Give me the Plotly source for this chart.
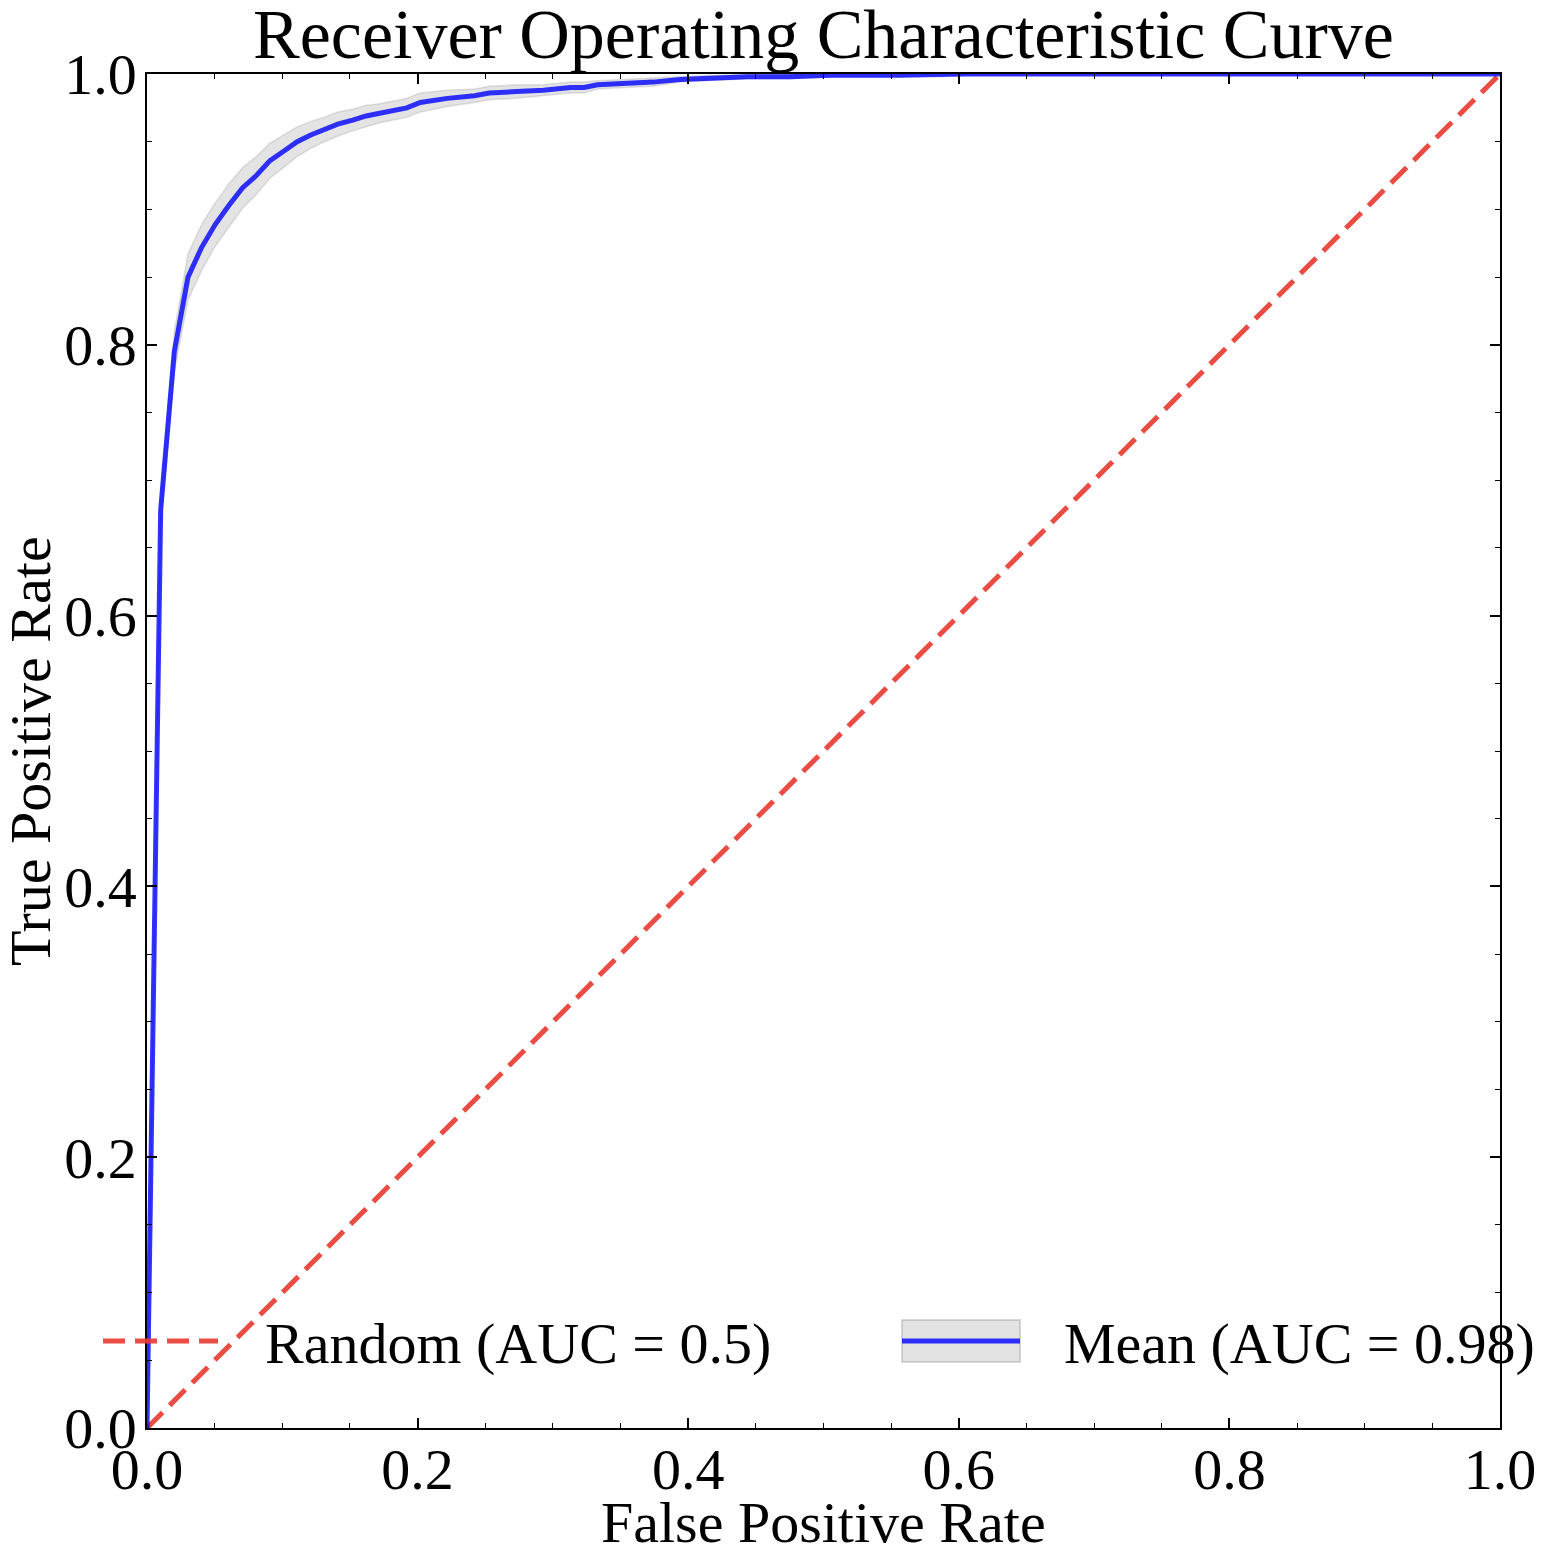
import plotly.graph_objects as go

# ---- data ----
fpr = [0.0, 0.0101, 0.0202, 0.0303, 0.0404, 0.0505, 0.0606, 0.0707, 0.0808, 0.0909,
       0.101, 0.111, 0.121, 0.131, 0.141, 0.152, 0.162, 0.172, 0.182, 0.192,
       0.202, 0.222, 0.242, 0.253, 0.273, 0.293, 0.313, 0.323, 0.333, 0.354,
       0.374, 0.394, 0.414, 0.444, 0.475, 0.505, 0.556, 0.606, 0.707, 0.808,
       0.909, 1.0]
tpr_mean = [0.0, 0.678, 0.795, 0.850, 0.872, 0.889, 0.903, 0.916, 0.925, 0.936,
            0.943, 0.950, 0.955, 0.959, 0.963, 0.966, 0.969, 0.971, 0.973, 0.975,
            0.979, 0.982, 0.984, 0.986, 0.987, 0.988, 0.990, 0.990, 0.992, 0.993,
            0.994, 0.996, 0.997, 0.998, 0.998, 0.999, 0.999, 1.0, 1.0, 1.0,
            1.0, 1.0]
tpr_std = [0.0, 0.012, 0.015, 0.017, 0.017, 0.016, 0.016, 0.015, 0.014, 0.013,
           0.012, 0.011, 0.010, 0.009, 0.009, 0.008, 0.008, 0.007, 0.007, 0.007,
           0.007, 0.006, 0.005, 0.005, 0.005, 0.004, 0.004, 0.004, 0.003, 0.003,
           0.003, 0.002, 0.002, 0.0015, 0.0015, 0.001, 0.001, 0.0, 0.0, 0.0,
           0.0, 0.0]
random_x = [0.0, 1.0]
random_y = [0.0, 1.0]

title_text = "Receiver Operating Characteristic Curve"
x_label = "False Positive Rate"
y_label = "True Positive Rate"
label_random = "Random (AUC = 0.5)"
label_mean = "Mean (AUC = 0.98)"
tick_vals = [0.0, 0.2, 0.4, 0.6, 0.8, 1.0]
tick_text = ["0.0", "0.2", "0.4", "0.6", "0.8", "1.0"]

tpr_upper = [min(m + s, 1.0) for m, s in zip(tpr_mean, tpr_std)]
tpr_lower = [max(m - s, 0.0) for m, s in zip(tpr_mean, tpr_std)]

FONT = "Liberation Serif"
FS = 58
FS_TITLE = 70
BLUE = "rgba(0,0,255,0.8)"
RED = "rgba(232,60,50,0.92)"
BAND_FILL = "rgba(128,128,128,0.22)"
BAND_EDGE = "rgba(128,128,128,0.22)"
LW = 5

fig = go.Figure()
fig.add_trace(go.Scatter(x=fpr, y=tpr_lower, mode="lines",
                         line=dict(color=BAND_EDGE, width=1.5), showlegend=False,
                         hoverinfo="skip"))
fig.add_trace(go.Scatter(x=fpr, y=tpr_upper, mode="lines", fill="tonexty",
                         fillcolor=BAND_FILL,
                         line=dict(color=BAND_EDGE, width=1.5), showlegend=False,
                         hoverinfo="skip"))
fig.add_trace(go.Scatter(x=random_x, y=random_y, mode="lines",
                         line=dict(color=RED, width=LW, dash="22px,10px"),
                         showlegend=False))
fig.add_trace(go.Scatter(x=fpr, y=tpr_mean, mode="lines",
                         line=dict(color=BLUE, width=LW), showlegend=False))

W, H = 1548, 1554
L, R, T, B = 147, 48, 74, 126
pw, ph = W - L - R, H - T - B


def px(xp):
    return (xp - L) / pw


def py(yp):
    return (H - B - yp) / ph


axis_common = dict(
    range=[0, 1], showgrid=False, zeroline=False, showline=True,
    linecolor="black", linewidth=1.5, mirror="allticks",
    ticks="inside", ticklen=10, tickwidth=1.5, tickcolor="black",
    tickvals=tick_vals, ticktext=tick_text,
    tickfont=dict(family=FONT, size=FS, color="black"),
    minor=dict(ticks="inside", ticklen=5, tickwidth=1.2, tickcolor="black",
               dtick=0.05, showgrid=False),
    fixedrange=True,
)

fig.update_layout(
    width=W, height=H,
    margin=dict(l=L, r=R, t=T, b=B, pad=0),
    paper_bgcolor="white", plot_bgcolor="white",
    font=dict(family=FONT, size=FS, color="black"),
    title=dict(text=title_text, xref="paper", x=0.5, xanchor="center",
               yref="container", y=1 - 33 / H, yanchor="middle",
               font=dict(family=FONT, size=FS_TITLE, color="black")),
    xaxis=dict(**axis_common, ticklabelstandoff=-10),
    yaxis=dict(**axis_common, ticklabelstandoff=-3),
    showlegend=False,
)

# axis titles
fig.add_annotation(text=x_label, xref="paper", yref="paper", x=0.5, y=py(1522),
                   xanchor="center", yanchor="middle", showarrow=False,
                   font=dict(family=FONT, size=FS, color="black"))
fig.add_annotation(text=y_label, xref="paper", yref="paper", x=px(30), y=0.5,
                   xanchor="center", yanchor="middle", showarrow=False, textangle=-90,
                   font=dict(family=FONT, size=FS, color="black"))

# legend (drawn manually, matplotlib-like long handles)
leg_y = py(1341)
fig.add_shape(type="line", xref="paper", yref="paper", x0=px(103), x1=px(218),
              y0=leg_y, y1=leg_y, line=dict(color=RED, width=LW, dash="22px,10px"))
fig.add_annotation(text=label_random, xref="paper", yref="paper", x=px(263), y=py(1343),
                   xanchor="left", yanchor="middle", showarrow=False,
                   font=dict(family=FONT, size=FS, color="black"))
fig.add_shape(type="rect", xref="paper", yref="paper", x0=px(902), x1=px(1020),
              y0=py(1362), y1=py(1320), fillcolor=BAND_FILL,
              line=dict(color="rgba(128,128,128,0.3)", width=2))
fig.add_shape(type="line", xref="paper", yref="paper", x0=px(902), x1=px(1020),
              y0=leg_y, y1=leg_y, line=dict(color=BLUE, width=LW))
fig.add_annotation(text=label_mean, xref="paper", yref="paper", x=px(1062), y=py(1343),
                   xanchor="left", yanchor="middle", showarrow=False,
                   font=dict(family=FONT, size=FS, color="black"))

fig.write_html("out.html")
